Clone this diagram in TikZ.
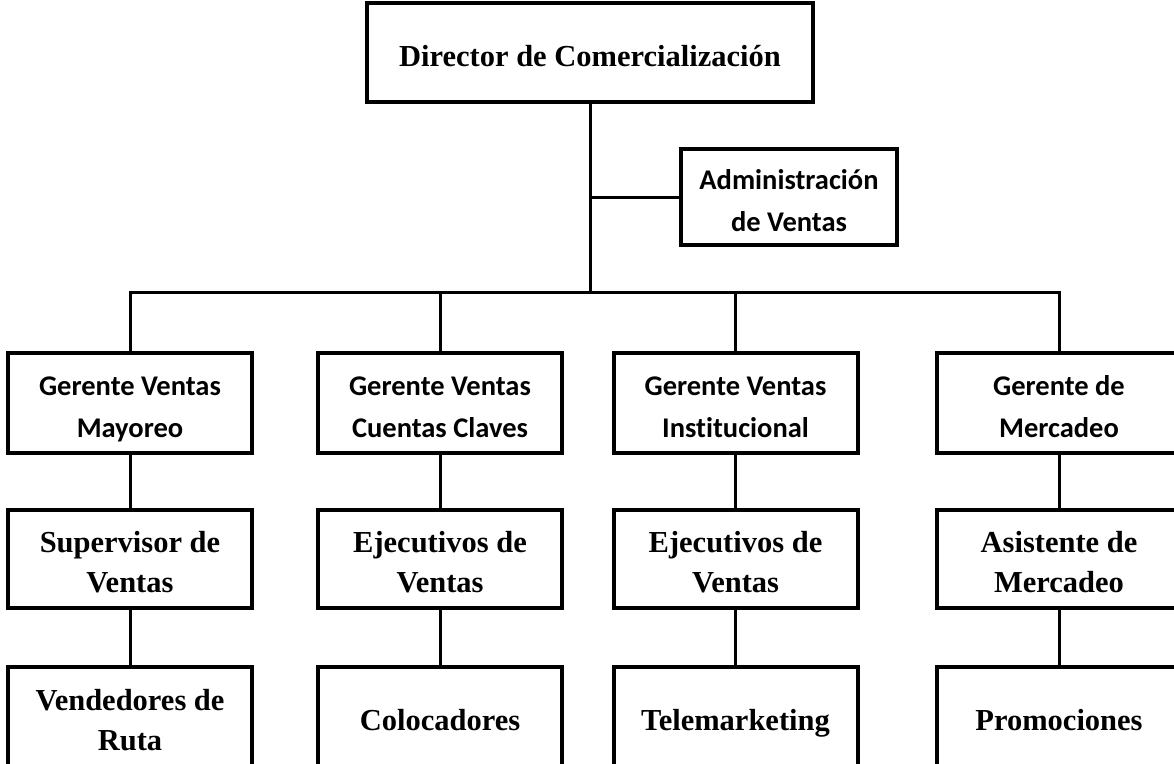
\documentclass[tikz,border=0pt]{standalone}
\usepackage{fontspec}
\setmainfont{Liberation Serif}
\newfontfamily\sansbold{Carlito}[Ligatures=NoCommon]
% fixed line struts so every box centres its lines the same way
\newcommand{\sanssupport}{\rule[-7.5pt]{0pt}{42pt}}
\newcommand{\serifsupport}{\rule[-6.5pt]{0pt}{40pt}}
\begin{document}
\begin{tikzpicture}[x=1pt,y=-1pt,
  box/.style={draw=black, line width=4pt, fill=white, rectangle, inner sep=0pt, align=center},
  serifbox/.style={box, font=\fontsize{30.5}{40}\selectfont\bfseries},
  sansbox/.style={box, font=\sansbold\fontsize{28.5}{42}\selectfont\bfseries},
  unit/.style={minimum width=244pt, minimum height=100pt},
  unitmid/.style={minimum width=244pt, minimum height=98pt},
  link/.style={line width=3pt}]
\useasboundingbox (0,0) rectangle (1174,763);
\clip (0,0) rectangle (1174,763);

% top of the chart
\node[serifbox, minimum width=446pt, minimum height=99pt] (dir) at (590,52.5)
  {\serifsupport Director de Comercialización};
\node[sansbox, minimum width=216pt, minimum height=96pt] (adm) at (789,197)
  {\sanssupport Administración\\\sanssupport de Ventas};

% managers
\node[sansbox, unit] (g1) at (130,403) {\sanssupport Gerente Ventas\\\sanssupport Mayoreo};
\node[sansbox, unit] (g2) at (440,403) {\sanssupport Gerente Ventas\\\sanssupport Cuentas Claves};
\node[sansbox, unit] (g3) at (735.5,403) {\sanssupport Gerente Ventas\\\sanssupport Institucional};
\node[sansbox, unit] (g4) at (1059,403) {\sanssupport Gerente de\\\sanssupport Mercadeo};

% second level
\node[serifbox, unitmid] (s1) at (130,559) {\serifsupport Supervisor de\\\serifsupport Ventas};
\node[serifbox, unitmid] (s2) at (440,559) {\serifsupport Ejecutivos de\\\serifsupport Ventas};
\node[serifbox, unitmid] (s3) at (735.5,559) {\serifsupport Ejecutivos de\\\serifsupport Ventas};
\node[serifbox, unitmid] (s4) at (1059,559) {\serifsupport Asistente de\\\serifsupport Mercadeo};

% third level (runs past the lower edge)
\node[serifbox, unit] (t1) at (130,717) {\serifsupport Vendedores de\\\serifsupport Ruta};
\node[serifbox, unit] (t2) at (440,717) {\serifsupport Colocadores};
\node[serifbox, unit] (t3) at (735.5,717) {\serifsupport Telemarketing};
\node[serifbox, unit] (t4) at (1059,717) {\serifsupport Promociones};

% connectors
\coordinate (bus) at (590,292);
\draw[link] (dir.south) -- (bus);
\draw[link] (dir.south |- adm.west) -- (adm.west);
\draw[link] (g1.north) |- (bus) -| (g4.north);
\draw[link] (g2.north) -- (g2.north |- bus);
\draw[link] (g3.north) -- (g3.north |- bus);
\foreach \i in {1,2,3,4}{
  \draw[link] (g\i.south) -- (s\i.north);
  \draw[link] (s\i.south) -- (t\i.north);
}
\end{tikzpicture}
\end{document}
